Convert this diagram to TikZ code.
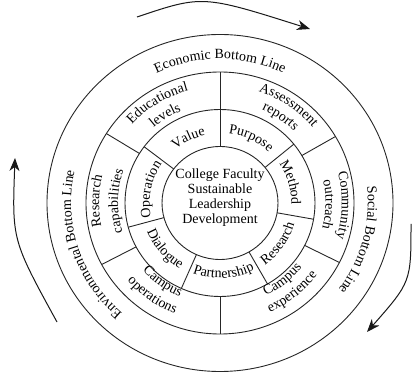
\documentclass[tikz,border=0pt]{standalone}
\usepackage{fontspec}
\setmainfont{Liberation Serif}
\usetikzlibrary{calc,decorations.text,arrows.meta}

\newcommand\lblfont{\fontsize{14}{15}\selectfont}
\newcommand\kx{1.02}

% text set along an arc around the centre, reading clockwise (tops outward)
\newcommand\cwtext[3]{%
  \pgfmathsetmacro\ringSa{#1+70}\pgfmathsetmacro\ringEa{#1-70}%
  \pgfmathsetmacro\ringRx{#2*\kx}%
  \path[decorate,decoration={text along path,text align=center,text={|\lblfont|#3}}]
    ($(C)+(\ringSa:\ringRx pt and #2pt)$)
    arc[start angle=\ringSa,end angle=\ringEa,x radius=\ringRx pt,y radius=#2pt];}
% text set along an arc, reading counter-clockwise (tops inward)
\newcommand\ccwtext[3]{%
  \pgfmathsetmacro\ringSa{#1-70}\pgfmathsetmacro\ringEa{#1+70}%
  \pgfmathsetmacro\ringRx{#2*\kx}%
  \path[decorate,decoration={text along path,text align=center,text={|\lblfont|#3}}]
    ($(C)+(\ringSa:\ringRx pt and #2pt)$)
    arc[start angle=\ringSa,end angle=\ringEa,x radius=\ringRx pt,y radius=#2pt];}

\tikzset{
  ring/.style={draw=black!85,line width=0.9pt},
  divider/.style={draw=black!85,line width=0.9pt},
  cycle arrow/.style={draw=black!90,line width=1pt,-{Stealth[length=13pt,width=10pt,inset=4pt]}}
}

\begin{document}
\begin{tikzpicture}[x=1pt,y=1pt]
\useasboundingbox (0,0) rectangle (412,372);
\coordinate (C) at (220,169);

% concentric rings
\draw[ring] (C) ellipse [x radius=58pt, y radius=56.5pt];
\draw[ring] (C) ellipse [x radius=95pt, y radius=93.5pt];
\draw[ring] (C) ellipse [x radius=134pt, y radius=131pt];
\draw[ring] (C) ellipse [x radius=173pt, y radius=168.5pt];

% sector dividers of the middle ring
\foreach \a in {90,39,-10,-60,-114,-165,143}
  \draw[divider,shift={(C)}] (\a:58pt and 56.5pt) -- (\a:95pt and 93.5pt);
% sector dividers of the outer ring
\foreach \a in {90,30.5,-27,-90,-152,148}
  \draw[divider,shift={(C)}] (\a:95pt and 93.5pt) -- (\a:134pt and 131pt);

% core
\node[name=core,align=center,font=\lblfont,inner sep=0pt] at (220,174)
  {College Faculty\\Sustainable\\Leadership\\Development};

% middle ring labels
\cwtext{116}{69}{Value}
\cwtext{64.5}{70}{Purpose}
\cwtext{16}{70}{Method}
\cwtext{169}{69}{Operation}
\ccwtext{-35}{76}{Research}
\ccwtext{-87}{75}{Partnership}
\ccwtext{-140}{77}{Dialogue}

% outer ring labels
\cwtext{122}{116.5}{Educational}
\cwtext{122}{99.5}{levels}
\cwtext{55}{118}{Assessment}
\cwtext{55}{102}{reports}
\cwtext{-1}{119.5}{Community}
\cwtext{-1}{103.5}{outreach}
\cwtext{179}{118.5}{Research}
\cwtext{179}{100}{capabilities}
\ccwtext{-51}{103}{Campus}
\ccwtext{-51}{119.5}{experience}
\ccwtext{-126}{101.5}{Campus}
\ccwtext{-126}{119.5}{operations}

% bottom lines
\cwtext{90}{144}{Economic Bottom Line}
\cwtext{-15}{145}{Social Bottom Line}
\cwtext{198}{146}{Environmental Bottom Line}

% cycle arrows
\coordinate (topS) at (137,355);
\coordinate (topE) at (310,343);
\coordinate (rightS) at (411,148);
\coordinate (rightE) at (367,40);
\coordinate (leftS) at (57,50);
\coordinate (leftE) at (15,214);
\draw[cycle arrow] (topS) .. controls (202.5,377) .. (topE);
\draw[cycle arrow] (rightS) .. controls (411,90) .. (rightE);
\draw[cycle arrow] (leftS) .. controls (12,132) .. (leftE);
\end{tikzpicture}
\end{document}
